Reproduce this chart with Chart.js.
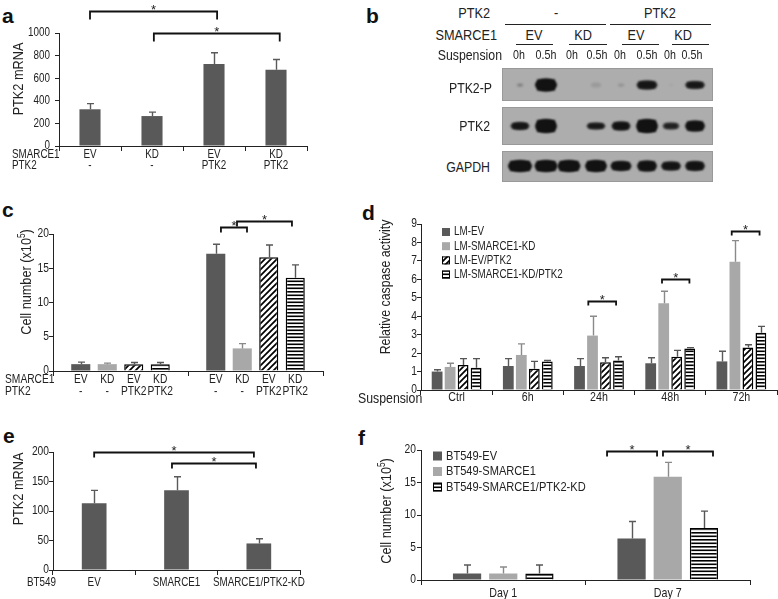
<!DOCTYPE html>
<html><head><meta charset="utf-8">
<script src="https://cdn.jsdelivr.net/npm/chart.js@4.4.0/dist/chart.umd.min.js"></script>
<style>
body{margin:0;background:#fff;width:778px;height:599px;overflow:hidden;position:relative;font-family:"Liberation Sans",Arial,sans-serif;color:#222}
.abs{position:absolute;white-space:nowrap;line-height:1}
.pl{position:absolute;font-family:"Liberation Sans",Arial,sans-serif;font-weight:bold;font-size:21px;line-height:1;color:#111}
canvas{position:absolute}
.hl{position:absolute;height:0;border-top:1px solid #222}
</style></head><body>
<div class="pl" style="left:2px;top:5px">a</div>
<div class="pl" style="left:366px;top:5px">b</div>
<div class="pl" style="left:2px;top:199px">c</div>
<div class="pl" style="left:362px;top:202px">d</div>
<div class="pl" style="left:3px;top:425px">e</div>
<div class="pl" style="left:358px;top:427px">f</div>

<canvas id="ca" width="320" height="180" style="left:0;top:0"></canvas>
<canvas id="cc" width="330" height="200" style="left:0;top:200px"></canvas>
<canvas id="cd" width="388" height="205" style="left:390px;top:200px"></canvas>
<canvas id="ce" width="320" height="179" style="left:0;top:420px"></canvas>
<canvas id="cf" width="388" height="179" style="left:390px;top:420px"></canvas>
<canvas id="blot" width="230" height="130" style="left:495px;top:60px"></canvas>

<script>
// ---------------- DATA ----------------
// Panel a
const aSmarce = ["EV","KD","EV","KD"];
const aPtk2 = ["-","-","PTK2","PTK2"];
const aMean = [325,265,725,675];
const aSD = [50,35,100,90];

// Panel b (band intensities per lane, 0..1)
const bLaneLabels = ["0h","0.5h","0h","0.5h","0h","0.5h","0h","0.5h"];
const bPTK2P = [0.3,1.0,0,0.12,0.18,0.85,0.06,0.8];
const bPTK2 = [0.85,1.0,0,0.8,0.9,1.0,0.7,0.95];
const bGAPDH = [1,1,1,1,0.95,0.95,0.9,0.9];

// Panel c
const cGroups = ["group1","group2"];
const cSmarce = ["EV","KD","EV","KD"];
const cPtk2 = ["-","-","PTK2","PTK2"];
const cEV = [1.0,17.1],  cEVsd = [0.3,1.4];
const cKD = [1.0,3.3],   cKDsd = [0.15,0.7];
const cEVP = [1.0,16.6], cEVPsd = [0.25,1.8];
const cKDP = [1.0,13.6], cKDPsd = [0.25,1.9];

// Panel d
const dCats = ["Ctrl","6h","24h","48h","72h"];
const dEV = [1.0,1.3,1.3,1.45,1.55],   dEVsd = [0.1,0.4,0.4,0.3,0.55];
const dKD = [1.25,1.9,2.95,4.7,6.95],  dKDsd = [0.2,0.6,1.05,0.65,1.15];
const dEVP = [1.35,1.15,1.5,1.8,2.3],  dEVPsd = [0.35,0.4,0.25,0.35,0.15];
const dKDP = [1.2,1.55,1.6,2.25,3.1],  dKDPsd = [0.5,0.05,0.2,0.05,0.35];

// Panel e
const eCats = ["EV","SMARCE1","SMARCE1/PTK2-KD"];
const eMean = [113,135,45];
const eSD = [22,23,8];

// Panel f
const fCats = ["Day 1","Day 7"];
const fEV = [1.0,6.4],  fEVsd = [1.3,2.6];
const fSM = [1.0,15.9], fSMsd = [1.0,2.2];
const fKD = [1.0,8.0],  fKDsd = [1.3,2.6];

// ---------------- STYLE ----------------
const FONT = '"Liberation Sans",Arial,sans-serif';
const NARROW = 0.82;
const DARK = '#595959', LIGHT = '#a8a8a8';
function makePattern(kind){
  const c = document.createElement('canvas');
  const x = c.getContext('2d');
  if(kind==='diag'){
    c.width=6;c.height=6;
    x.fillStyle='#fff';x.fillRect(0,0,6,6);
    x.strokeStyle='#000';x.lineWidth=1.7;x.beginPath();
    x.moveTo(-1,7);x.lineTo(7,-1);x.moveTo(-4,4);x.lineTo(4,-4);x.moveTo(2,10);x.lineTo(10,2);x.stroke();
  } else {
    c.width=4;c.height=7;
    x.fillStyle='#fff';x.fillRect(0,0,4,7);
    x.fillStyle='#000';x.fillRect(0,0,4,1.6);x.fillRect(0,3.5,4,1.6);
  }
  return x.createPattern(c,'repeat');
}
const DIAG = makePattern('diag'), HORI = makePattern('hori');

function ds(label,data,sd,kind){
  const o = {label,data,sd,borderWidth:0};
  if(kind==='dark'){o.backgroundColor=DARK;o.errColor='#5a5a5a';}
  else if(kind==='light'){o.backgroundColor=LIGHT;o.errColor='#8a8a8a';}
  else {o.backgroundColor = kind==='diag'?DIAG:HORI; o.borderColor='#000'; o.borderWidth=1.5; o.errColor='#555';}
  return o;
}
// condensed canvas text
function ctext(ctx,t,x,y,align){
  ctx.save();ctx.translate(x,y);ctx.scale(NARROW,1);ctx.textAlign=align;ctx.fillText(t,0,0);ctx.restore();
}

// ---------------- PLUGINS ----------------
Chart.register({
  id:'errbars',
  afterDatasetsDraw(chart){
    const ctx=chart.ctx, ys=chart.scales.y;
    chart.data.datasets.forEach((d,i)=>{
      if(!d.sd) return;
      chart.getDatasetMeta(i).data.forEach((bar,j)=>{
        const v=d.data[j], e=d.sd[j];
        const y0=ys.getPixelForValue(v), y1=ys.getPixelForValue(v+e), x=Math.round(bar.x)+0.5;
        ctx.save();ctx.strokeStyle=d.errColor;ctx.lineWidth=1.4;ctx.beginPath();
        ctx.moveTo(x,y0);ctx.lineTo(x,y1);ctx.moveTo(x-3.5,y1);ctx.lineTo(x+3.5,y1);ctx.stroke();ctx.restore();
      });
    });
  }
});
Chart.register({
  id:'brackets',
  afterDraw(chart,args,opts){
    if(!opts.items) return;
    const ctx=chart.ctx, xs=chart.scales.x, ys=chart.scales.y;
    opts.items.forEach(b=>{
      const x1=xs.getPixelForValue(b[0]), x2=xs.getPixelForValue(b[1]), y=Math.round(ys.getPixelForValue(b[2]))+0.5;
      const dr=opts.drop||5;
      ctx.save();ctx.strokeStyle='#111';ctx.lineWidth=1.8;ctx.beginPath();
      ctx.moveTo(x1,y+dr);ctx.lineTo(x1,y);ctx.lineTo(x2,y);ctx.lineTo(x2,y+dr);ctx.stroke();
      ctx.fillStyle='#222';ctx.font='13px '+FONT;ctx.textAlign='center';ctx.textBaseline='alphabetic';
      ctx.fillText('*',(x1+x2)/2,y+(opts.starOff||2));ctx.restore();
    });
  }
});
Chart.register({
  id:'yticks',
  afterDraw(chart,args,o){
    const ys=chart.scales.y, ctx=chart.ctx;
    ctx.save();ctx.fillStyle='#222';ctx.font=(o.size||12)+'px '+FONT;ctx.textBaseline='middle';
    ys.ticks.forEach(t=>ctext(ctx,String(t.value),chart.chartArea.left-(o.gap||8),ys.getPixelForValue(t.value),'right'));
    ctx.restore();
  }
});
Chart.register({
  id:'xlabels',
  afterDraw(chart,args,opts){
    if(!opts.rows) return;
    const ctx=chart.ctx, xs=chart.scales.x, bottom=chart.chartArea.bottom;
    ctx.save();ctx.fillStyle='#222';ctx.font=(opts.size||12)+'px '+FONT;ctx.textBaseline='middle';
    opts.rows.forEach(r=>{
      const y=bottom+r.off;
      if(r.header){ctext(ctx,r.header,opts.hx,y,'left');}
      if(r.perBar){
        chart.data.datasets.forEach((d,i)=>{
          chart.getDatasetMeta(i).data.forEach(bar=>ctext(ctx,r.texts[i],bar.x,y,'center'));
        });
      } else {
        r.texts.forEach((t,j)=>ctext(ctx,t,xs.getPixelForValue(j),y,'center'));
      }
    });
    ctx.restore();
  }
});
Chart.register({
  id:'boxlegend',
  afterDraw(chart,args,o){
    if(!o.x) return;
    const ctx=chart.ctx;
    ctx.save();ctx.font=o.size+'px '+FONT;ctx.textBaseline='middle';
    chart.data.datasets.forEach((d,i)=>{
      const cy=o.y+i*o.dy, s=o.box;
      ctx.fillStyle=d.backgroundColor;ctx.fillRect(o.x,cy-s/2,s,s);
      if(d.borderWidth){ctx.strokeStyle='#000';ctx.lineWidth=1;ctx.strokeRect(o.x+0.5,cy-s/2+0.5,s-1,s-1);}
      ctx.fillStyle='#222';ctext(ctx,d.label,o.x+s+4,cy,'left');
    });
    ctx.restore();
  }
});

function barChart(id,cfg){
  return new Chart(document.getElementById(id),{
    type:'bar',
    data:{labels:cfg.labels,datasets:cfg.datasets},
    options:{
      responsive:false,animation:false,maintainAspectRatio:false,
      layout:{padding:{top:cfg.top,right:cfg.right,left:0,bottom:0}},
      datasets:{bar:{categoryPercentage:cfg.catPct,barPercentage:cfg.barPct}},
      plugins:{legend:{display:false},tooltip:{enabled:false},
        brackets:cfg.brackets||{},xlabels:cfg.xlabels||{},boxlegend:cfg.legend||{},yticks:cfg.yticks||{}},
      scales:{
        x:{offset:true,grid:{display:true,offset:true,drawOnChartArea:false,drawTicks:true,tickLength:5,color:'#222',lineWidth:1},
           border:{display:true,color:'#222',width:1},ticks:{display:false},afterFit(s){s.height=cfg.xH;}},
        y:{min:cfg.yMin,max:cfg.yMax,ticks:{display:false,stepSize:cfg.step},
           grid:{drawOnChartArea:false,drawTicks:true,tickLength:4,color:'#222',lineWidth:1},
           border:{display:true,color:'#222',width:1},afterFit(s){s.width=cfg.yW;}}
      }
    }
  });
}

// Panel a
barChart('ca',{labels:aSmarce.map((s,i)=>i),datasets:[ds('PTK2 mRNA',aMean,aSD,'dark')],
  top:33,right:13,xH:34,yW:59,yMin:0,yMax:1000,step:200,catPct:1,barPct:0.34,
  yticks:{gap:9,size:12},
  brackets:{drop:8,items:[[0,2.05,1195],[1.03,3.06,1000]]},
  xlabels:{size:12,hx:12,rows:[{off:9,header:'SMARCE1',texts:aSmarce},{off:20,header:'PTK2',texts:aPtk2}]}});

// Panel c
barChart('cc',{labels:cGroups,datasets:[ds('EV',cEV,cEVsd,'dark'),ds('KD',cKD,cKDsd,'light'),ds('EV/PTK2',cEVP,cEVPsd,'diag'),ds('KD/PTK2',cKDP,cKDPsd,'hori')],
  top:34,right:7,xH:29,yW:53,yMin:0,yMax:20,step:5,catPct:0.785,barPct:0.72,
  yticks:{gap:4,size:12.5},
  brackets:{drop:5,items:[[0.744,0.937,21.0],[0.863,1.27,21.9]]},
  xlabels:{size:12.5,hx:5,rows:[{off:9,header:'SMARCE1',perBar:true,texts:cSmarce},{off:21,header:'PTK2',perBar:true,texts:cPtk2}]}});

// Panel d
barChart('cd',{labels:dCats,datasets:[ds('LM-EV',dEV,dEVsd,'dark'),ds('LM-SMARCE1-KD',dKD,dKDsd,'light'),ds('LM-EV/PTK2',dEVP,dEVPsd,'diag'),ds('LM-SMARCE1-KD/PTK2',dKDP,dKDPsd,'hori')],
  top:24,right:1,xH:15,yW:31,yMin:0,yMax:9,step:1,catPct:0.73,barPct:0.83,
  yticks:{gap:4,size:12.5},
  brackets:{drop:4,items:[[1.85,2.24,4.83],[2.885,3.27,6.02],[3.864,4.255,8.62]]},
  xlabels:{size:13,rows:[{off:7,texts:dCats}]},
  legend:{x:52,y:32,dy:14.2,box:8,size:12}});

// Panel e
barChart('ce',{labels:eCats,datasets:[ds('PTK2 mRNA',eMean,eSD,'dark')],
  top:32,right:20,xH:29,yW:53,yMin:0,yMax:200,step:50,catPct:1,barPct:0.30,
  yticks:{gap:4,size:12.5},
  brackets:{drop:5,items:[[0,1.94,200],[0.945,1.965,181]]},
  xlabels:{size:12,hx:27,rows:[{off:13,header:'BT549',texts:eCats}]}});

// Panel f
barChart('cf',{labels:fCats,datasets:[ds('BT549-EV',fEV,fEVsd,'dark'),ds('BT549-SMARCE1',fSM,fSMsd,'light'),ds('BT549-SMARCE1/PTK2-KD',fKD,fKDsd,'hori')],
  top:30,right:28,xH:19,yW:31,yMin:0,yMax:20,step:5,catPct:0.66,barPct:0.78,
  yticks:{gap:5,size:12.5},
  brackets:{drop:5,items:[[0.631,0.935,19.85],[0.971,1.275,19.85]]},
  xlabels:{size:13,rows:[{off:13,texts:fCats}]},
  legend:{x:43,y:36,dy:15.5,box:9,size:13.5}});

// ---------------- TEXT (HTML) ----------------
function txt(s,x,y,size,align,rot){
  const d=document.createElement('div');d.className='abs';d.innerHTML=s;d.style.fontSize=size+'px';
  d.style.left=x+'px';d.style.top=y+'px';
  const tx=align==='c'?'-50%':align==='r'?'-100%':'0';
  if(rot){d.style.transform=`translate(-50%,-50%) rotate(-90deg) scaleX(${NARROW})`;}
  else{d.style.transformOrigin=(align==='c'?'center':align==='r'?'right':'left')+' center';
       d.style.transform=`translate(${tx},-50%) scaleX(${NARROW})`;}
  document.body.appendChild(d);
}
function hline(x1,x2,y){const d=document.createElement('div');d.className='hl';d.style.left=x1+'px';d.style.width=(x2-x1)+'px';d.style.top=y+'px';document.body.appendChild(d);}
// y titles
txt('PTK2 mRNA',18,79,15.5,'c',true);
txt('Cell number (x10<sup style="font-size:10px">5</sup>)',25,282,15.5,'c',true);
txt('Relative caspase activity',384,287,15,'c',true);
txt('PTK2 mRNA',18,489,15.5,'c',true);
txt('Cell number (x10<sup style="font-size:10px">5</sup>)',385,511,15.5,'c',true);
txt('Suspension',358,397,15,'l');

// Panel b header
txt('PTK2',490,13,15.5,'r');txt('-',556,13,15.5,'c');txt('PTK2',660,13,15.5,'c');
hline(505,606,24);hline(610,711,24);
txt('SMARCE1',497,35,15.5,'r');
[['EV',534],['KD',583],['EV',636],['KD',683]].forEach(p=>txt(p[0],p[1],35,15.5,'c'));
hline(516,553,44);hline(569,607,44);hline(622,659,44);hline(672,709,44);
txt('Suspension',502,54,15,'r');
const laneX=[519,546,572,597,620,647,670,692];
bLaneLabels.forEach((l,i)=>txt(l,laneX[i],54,13,'c'));
txt('PTK2-P',492,87,15,'r');txt('PTK2',490,125,15,'r');txt('GAPDH',490,166,15,'r');

// Blot image
(function(){
  const c=document.getElementById('blot'),x=c.getContext('2d'),ox=495,oy=60;
  const rows=[{y0:68,y1:101,cy:85,data:bPTK2P,h:[3,13,0,5,3,9,2,8],w:[6,22,0,10,6,21,4,20]},
              {y0:107,y1:145,cy:126,data:bPTK2,h:[8,14,0,7,9,14,7,11],w:[19,22,0,19,19,22,17,20]},
              {y0:151,y1:182,cy:166,data:bGAPDH,h:[12,12,12,12,10,11,9,10],w:[24,23,23,22,21,20,20,20]}];
  const bx=[520,546,569,596,621,647,671,695];
  rows.forEach(r=>{
    x.fillStyle='#adadad';x.fillRect(502-ox,r.y0-oy,211,r.y1-r.y0);
    x.strokeStyle='#999';x.lineWidth=1;x.strokeRect(502-ox+0.5,r.y0-oy+0.5,210,r.y1-r.y0-1);
    x.save();x.filter='blur(1.3px)';
    r.data.forEach((v,i)=>{
      if(v<=0) return;
      x.fillStyle=`rgba(18,18,18,${Math.min(1,v)})`;
      const w=r.w[i],h=r.h[i];
      x.beginPath();x.ellipse(bx[i]-ox,r.cy-oy,w/2,h/2,0,0,Math.PI*2);x.fill();
      if(h>6){x.fillRect(bx[i]-ox-w/2+2,r.cy-oy-h/2+1,w-4,h-2);}
    });
    x.restore();
  });
})();
</script>
</body></html>
